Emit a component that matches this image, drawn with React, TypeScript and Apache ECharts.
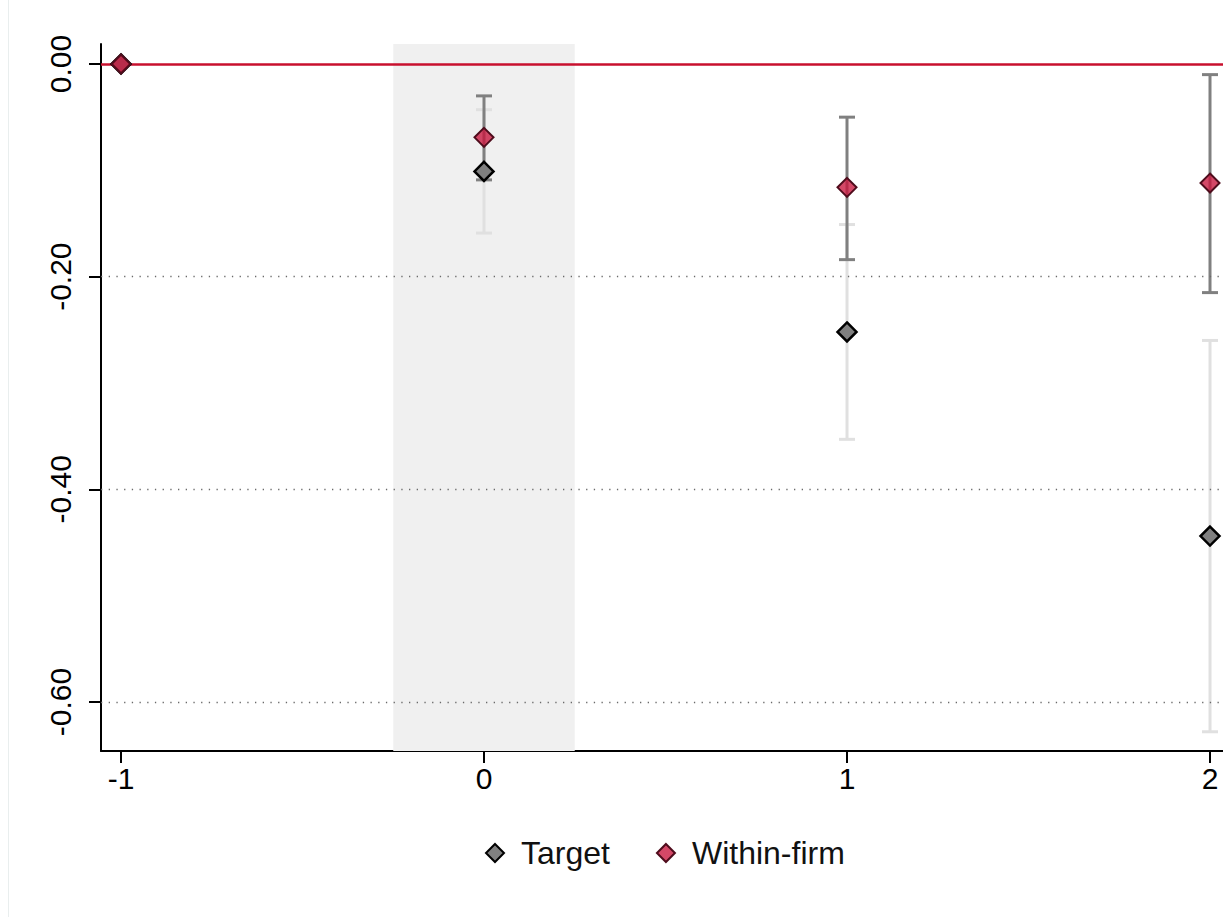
import React, { useEffect, useRef } from "react";
import * as echarts from "echarts";

const periods = [-1, 0, 1, 2];
const targetEst = [0, -0.101, -0.252, -0.444];
const targetLo = [0, -0.159, -0.353, -0.628];
const targetHi = [0, -0.043, -0.151, -0.26];
const withinEst = [0, -0.069, -0.116, -0.112];
const withinLo = [0, -0.109, -0.184, -0.215];
const withinHi = [0, -0.03, -0.05, -0.01];
const xTicks = [-1, 0, 1, 2];
const yTicks = [0, -0.2, -0.4, -0.6];
const gridLines = [-0.2, -0.4, -0.6];
const treatWindow = [-0.25, 0.25];

const FONT = "'Liberation Sans', Arial, sans-serif";

function ciSeries(name: string, lo: number[], hi: number[], color: string, z: number) {
  const data = periods
    .map((p, i) => [p, lo[i], hi[i]])
    .filter((d) => d[1] !== d[2]);
  return {
    name: name,
    type: "custom",
    z: z,
    silent: true,
    data: data,
    encode: { x: 0, y: [1, 2] },
    renderItem: (params: any, api: any) => {
      const x = api.value(0);
      const a = api.coord([x, api.value(1)]);
      const b = api.coord([x, api.value(2)]);
      const hw = 8;
      const style = { stroke: color, lineWidth: 3 };
      return {
        type: "group",
        children: [
          { type: "line", shape: { x1: a[0], y1: a[1], x2: b[0], y2: b[1] }, style },
          { type: "line", shape: { x1: a[0] - hw, y1: a[1], x2: a[0] + hw, y2: a[1] }, style },
          { type: "line", shape: { x1: b[0] - hw, y1: b[1], x2: b[0] + hw, y2: b[1] }, style },
        ],
      };
    },
  };
}

export default function App() {
  const ref = useRef<HTMLDivElement>(null);
  useEffect(() => {
    if (!ref.current) return;
    const chart = echarts.init(ref.current, null, { renderer: "svg" });
    const option: any = {
      animation: false,
      backgroundColor: "#ffffff",
      textStyle: { fontFamily: FONT },
      grid: { left: 101, right: 0, top: 44, bottom: 166, containLabel: false },
      graphic: [
        {
          type: "line",
          shape: { x1: 8.5, y1: 0, x2: 8.5, y2: 917 },
          style: { stroke: "#e9eeee", lineWidth: 1 },
        },
      ],
      legend: {
        data: ["Target", "Within-firm"],
        top: 832,
        left: 480,
        icon: "diamond",
        itemWidth: 18,
        itemHeight: 18,
        itemGap: 46,
        textStyle: { fontSize: 32, color: "#111", fontFamily: FONT, padding: [0, 0, 0, 12] },
      },
      xAxis: {
        type: "value",
        min: -1.0551,
        max: 2.0358,
        axisLine: { show: true, onZero: false, lineStyle: { color: "#000", width: 2 } },
        axisTick: { show: true, length: 12, customValues: xTicks, lineStyle: { color: "#000", width: 2 } },
        axisLabel: {
          customValues: xTicks,
          fontSize: 30,
          color: "#000",
          margin: 12,
          fontFamily: FONT,
          formatter: (v: number) => String(v),
        },
        splitLine: { show: false },
      },
      yAxis: {
        type: "value",
        min: -0.6461,
        max: 0.0188,
        axisLine: { show: true, onZero: false, lineStyle: { color: "#000", width: 2 } },
        axisTick: { show: true, length: 12, customValues: yTicks, lineStyle: { color: "#000", width: 2 } },
        axisLabel: {
          customValues: yTicks,
          rotate: 90,
          fontSize: 30,
          color: "#000",
          margin: 26,
          fontFamily: FONT,
          formatter: (v: number) => v.toFixed(2),
        },
        splitLine: { show: false },
      },
      series: [
        {
          name: "bg",
          type: "scatter",
          z: 1,
          silent: true,
          data: [],
          markArea: {
            silent: true,
            itemStyle: { color: "#f0f0f0" },
            data: [[{ xAxis: treatWindow[0] }, { xAxis: treatWindow[1] }]],
          },
          markLine: {
            silent: true,
            symbol: "none",
            label: { show: false },
            lineStyle: { color: "#6a6a6a", type: [1.3, 6.4], width: 1.3 },
            data: gridLines.map((v) => ({ yAxis: v })),
          },
        },
        {
          name: "zero",
          type: "scatter",
          z: 2,
          silent: true,
          data: [],
          markLine: {
            silent: true,
            symbol: "none",
            label: { show: false },
            lineStyle: { color: "#c8102e", type: "solid", width: 2.5 },
            data: [{ yAxis: 0 }],
          },
        },
        ciSeries("Target CI", targetLo, targetHi, "#e0e0e0", 3),
        ciSeries("Within-firm CI", withinLo, withinHi, "#808080", 4),
        {
          name: "Target",
          type: "scatter",
          z: 5,
          symbol: "diamond",
          symbolSize: 19,
          data: periods.map((p, i) => [p, targetEst[i]]),
          itemStyle: { color: "#808080", borderColor: "#000", borderWidth: 2.5, opacity: 1 },
        },
        {
          name: "Within-firm",
          type: "scatter",
          z: 6,
          symbol: "diamond",
          symbolSize: 19,
          data: periods.map((p, i) => [p, withinEst[i]]),
          itemStyle: { color: "rgba(200,20,60,0.78)", borderColor: "#4f0c1c", borderWidth: 2, opacity: 1 },
        },
      ],
    };
    chart.setOption(option);
    return () => chart.dispose();
  }, []);
  return (
    <div
      ref={ref}
      style={{ position: "fixed", left: 0, top: 0, width: 1223, height: 917, background: "#fff" }}
    />
  );
}
